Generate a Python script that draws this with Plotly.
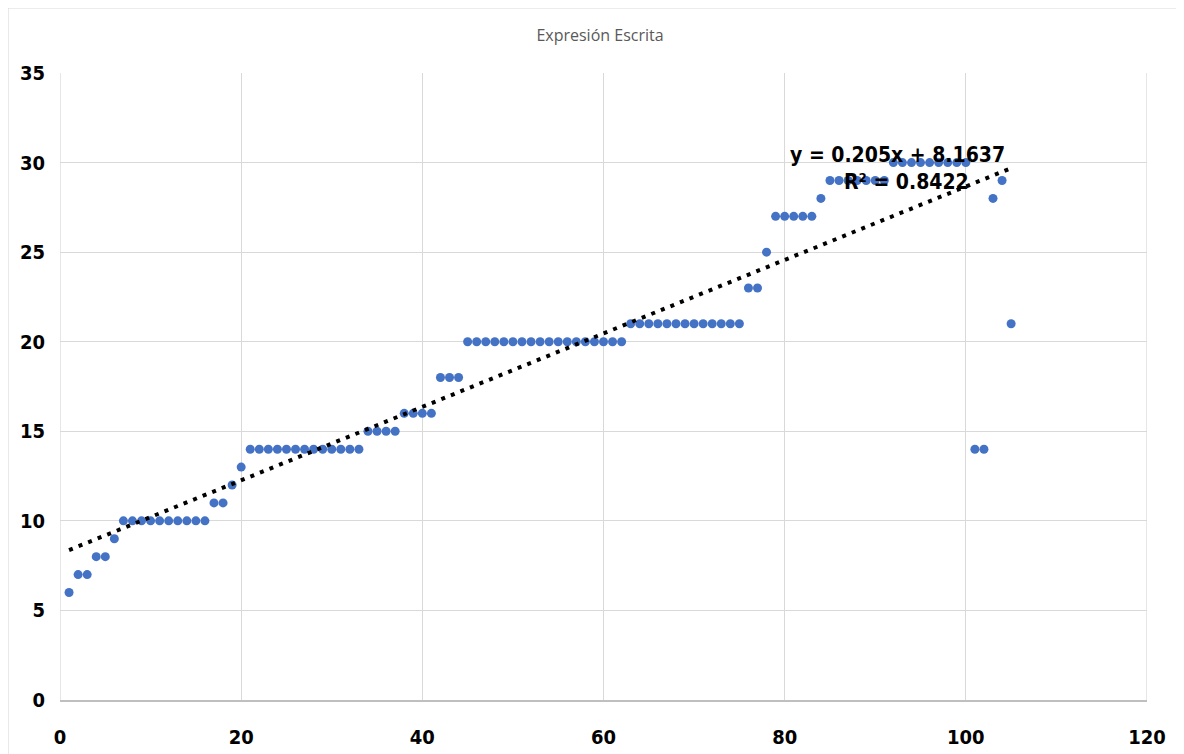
import numpy as np
import plotly.graph_objects as go

# Data
x_vals = list(range(1, 106))
y_vals = ([6, 7, 7, 8, 8, 9] + [10] * 10 + [11, 11, 12, 13] + [14] * 13 + [15] * 4 + [16] * 4
          + [18] * 3 + [20] * 18 + [21] * 13 + [23, 23, 25] + [27] * 5 + [28] + [29] * 7
          + [30] * 9 + [14, 14, 28, 29, 21])
x_ticks = [0, 20, 40, 60, 80, 100, 120]
y_ticks = [0, 5, 10, 15, 20, 25, 30, 35]
title_text = "Expresión Escrita"
eq_text = "y = 0.205x + 8.1637"
r2_text = "R² = 0.8422"

# Linear trendline
slope, intercept = np.polyfit(x_vals, y_vals, 1)
tx = np.linspace(min(x_vals), max(x_vals), 200)
ty = slope * tx + intercept

font_fam = "Liberation Sans Narrow, DejaVu Sans Condensed, Arial Narrow, sans-serif"

fig = go.Figure()
fig.add_trace(go.Scatter(
    x=x_vals, y=y_vals, mode="markers",
    marker=dict(color="#4472C4", size=9, line=dict(width=0)),
    showlegend=False,
))
fig.add_trace(go.Scatter(
    x=tx, y=ty, mode="lines",
    line=dict(color="black", width=4, dash="4px,6.3px"),
    showlegend=False,
))

fig.add_annotation(x=92.5, y=30.45, xref="x", yref="y", text=eq_text, showarrow=False,
                   font=dict(family=font_fam, size=21, color="black", weight="bold"))
fig.add_annotation(x=93.5, y=28.9, xref="x", yref="y", text=r2_text, showarrow=False,
                   font=dict(family=font_fam, size=21, color="black", weight="bold"))

# Chart border (Excel chart area)
for (x0, y0, x1, y1) in [(-0.048, -0.2, -0.048, 1.104), (-0.048, 1.104, 1.028, 1.104),
                         (1.028, 1.104, 1.028, -0.2)]:
    fig.add_shape(type="line", xref="paper", yref="paper", x0=x0, y0=y0, x1=x1, y1=y1,
                  line=dict(color="#D9D9D9", width=1.5))

fig.update_layout(
    width=1184, height=754,
    margin=dict(l=52, r=45, t=65, b=62),
    paper_bgcolor="white", plot_bgcolor="white",
    title=dict(text=title_text, x=0.5, xanchor="center", y=0.963, yanchor="middle",
               font=dict(family="Open Sans, DejaVu Sans, sans-serif", size=16, color="#595959")),
    xaxis=dict(range=[0, 120], tickvals=x_ticks, showgrid=True, gridcolor="#D9D9D9", gridwidth=1.3,
               zeroline=False, showline=True, linecolor="#BFBFBF", linewidth=1.5,
               ticks="", ticklabelstandoff=18,
               tickfont=dict(family=font_fam, size=20, color="black", weight="bold")),
    yaxis=dict(range=[0, 35], tickvals=y_ticks, showgrid=True, gridcolor="#D9D9D9", gridwidth=1.3,
               zeroline=False, showline=False, ticks="", ticklabelstandoff=14,
               tickfont=dict(family=font_fam, size=20, color="black", weight="bold")),
)
# edge gridlines to close plot area
fig.add_shape(type="line", xref="x", yref="paper", x0=120, x1=120, y0=0, y1=1,
              line=dict(color="#D9D9D9", width=1.3), layer="below")
fig.add_shape(type="line", xref="x", yref="paper", x0=0, x1=0, y0=0, y1=1,
              line=dict(color="#D9D9D9", width=1.3), layer="below")

fig.write_html("out.html")
